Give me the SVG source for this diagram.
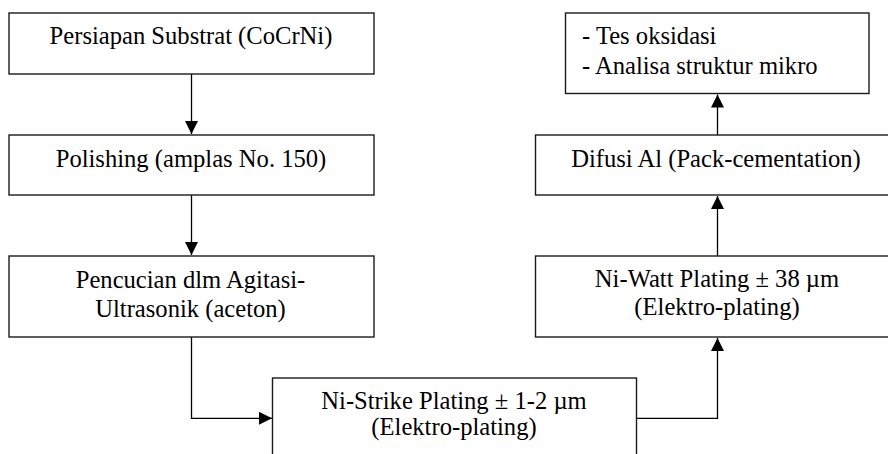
<svg xmlns="http://www.w3.org/2000/svg" width="888" height="454" viewBox="0 0 888 454">
<style>
.box{fill:#fff;stroke:#1a1a1a;stroke-width:1.4}
.t{font-family:"Liberation Serif","Times New Roman",serif;font-size:24.6px;fill:#000}
.c{text-anchor:middle}
.ln{fill:none;stroke:#000;stroke-width:1.3}
</style>
<defs>
<marker id="ah" markerUnits="userSpaceOnUse" markerWidth="14" markerHeight="14" refX="13" refY="6.5" orient="auto">
<path d="M0,0 L13,6.5 L0,13 Z" fill="#000"/>
</marker>
</defs>
<rect width="888" height="454" fill="#fff"/>
<g id="connectors">
<path class="ln" d="M191.5,74 V134" marker-end="url(#ah)"/>
<path class="ln" d="M191.5,195 V255" marker-end="url(#ah)"/>
<path class="ln" d="M191.5,337 V418.3 H272" marker-end="url(#ah)"/>
<path class="ln" d="M636.5,418.3 H717.5 V338" marker-end="url(#ah)"/>
<path class="ln" d="M717.5,256 V196" marker-end="url(#ah)"/>
<path class="ln" d="M717.5,135 V94.5" marker-end="url(#ah)"/>
</g>
<g id="n1">
<rect class="box" x="9" y="13" width="365" height="61"/>
<text class="t c" x="191" y="44">Persiapan Substrat (CoCrNi)</text>
</g>
<g id="n2">
<rect class="box" x="9" y="135" width="365" height="60"/>
<text class="t c" x="191" y="166.5">Polishing (amplas No. 150)</text>
</g>
<g id="n3">
<rect class="box" x="9" y="256" width="365" height="81"/>
<text class="t c" x="190.5" y="288">Pencucian dlm Agitasi-</text>
<text class="t c" x="190.5" y="316.5">Ultrasonik (aceton)</text>
</g>
<g id="n4">
<rect class="box" x="272.5" y="378" width="364" height="100"/>
<text class="t c" x="454" y="409">Ni-Strike Plating ± 1-2 µm</text>
<text class="t c" x="454" y="435">(Elektro-plating)</text>
</g>
<g id="n5">
<rect class="box" x="535.5" y="256" width="370" height="81"/>
<text class="t c" x="717" y="287">Ni-Watt Plating ± 38 µm</text>
<text class="t c" x="717" y="315">(Elektro-plating)</text>
</g>
<g id="n6">
<rect class="box" x="535.5" y="135" width="370" height="60"/>
<text class="t c" x="716" y="167">Difusi Al (Pack-cementation)</text>
</g>
<g id="n7">
<rect class="box" x="565.5" y="13" width="303.5" height="80.5"/>
<text class="t" x="582" y="43.5">- Tes oksidasi</text>
<text class="t" x="582" y="73.5">- Analisa struktur mikro</text>
</g>
</svg>
